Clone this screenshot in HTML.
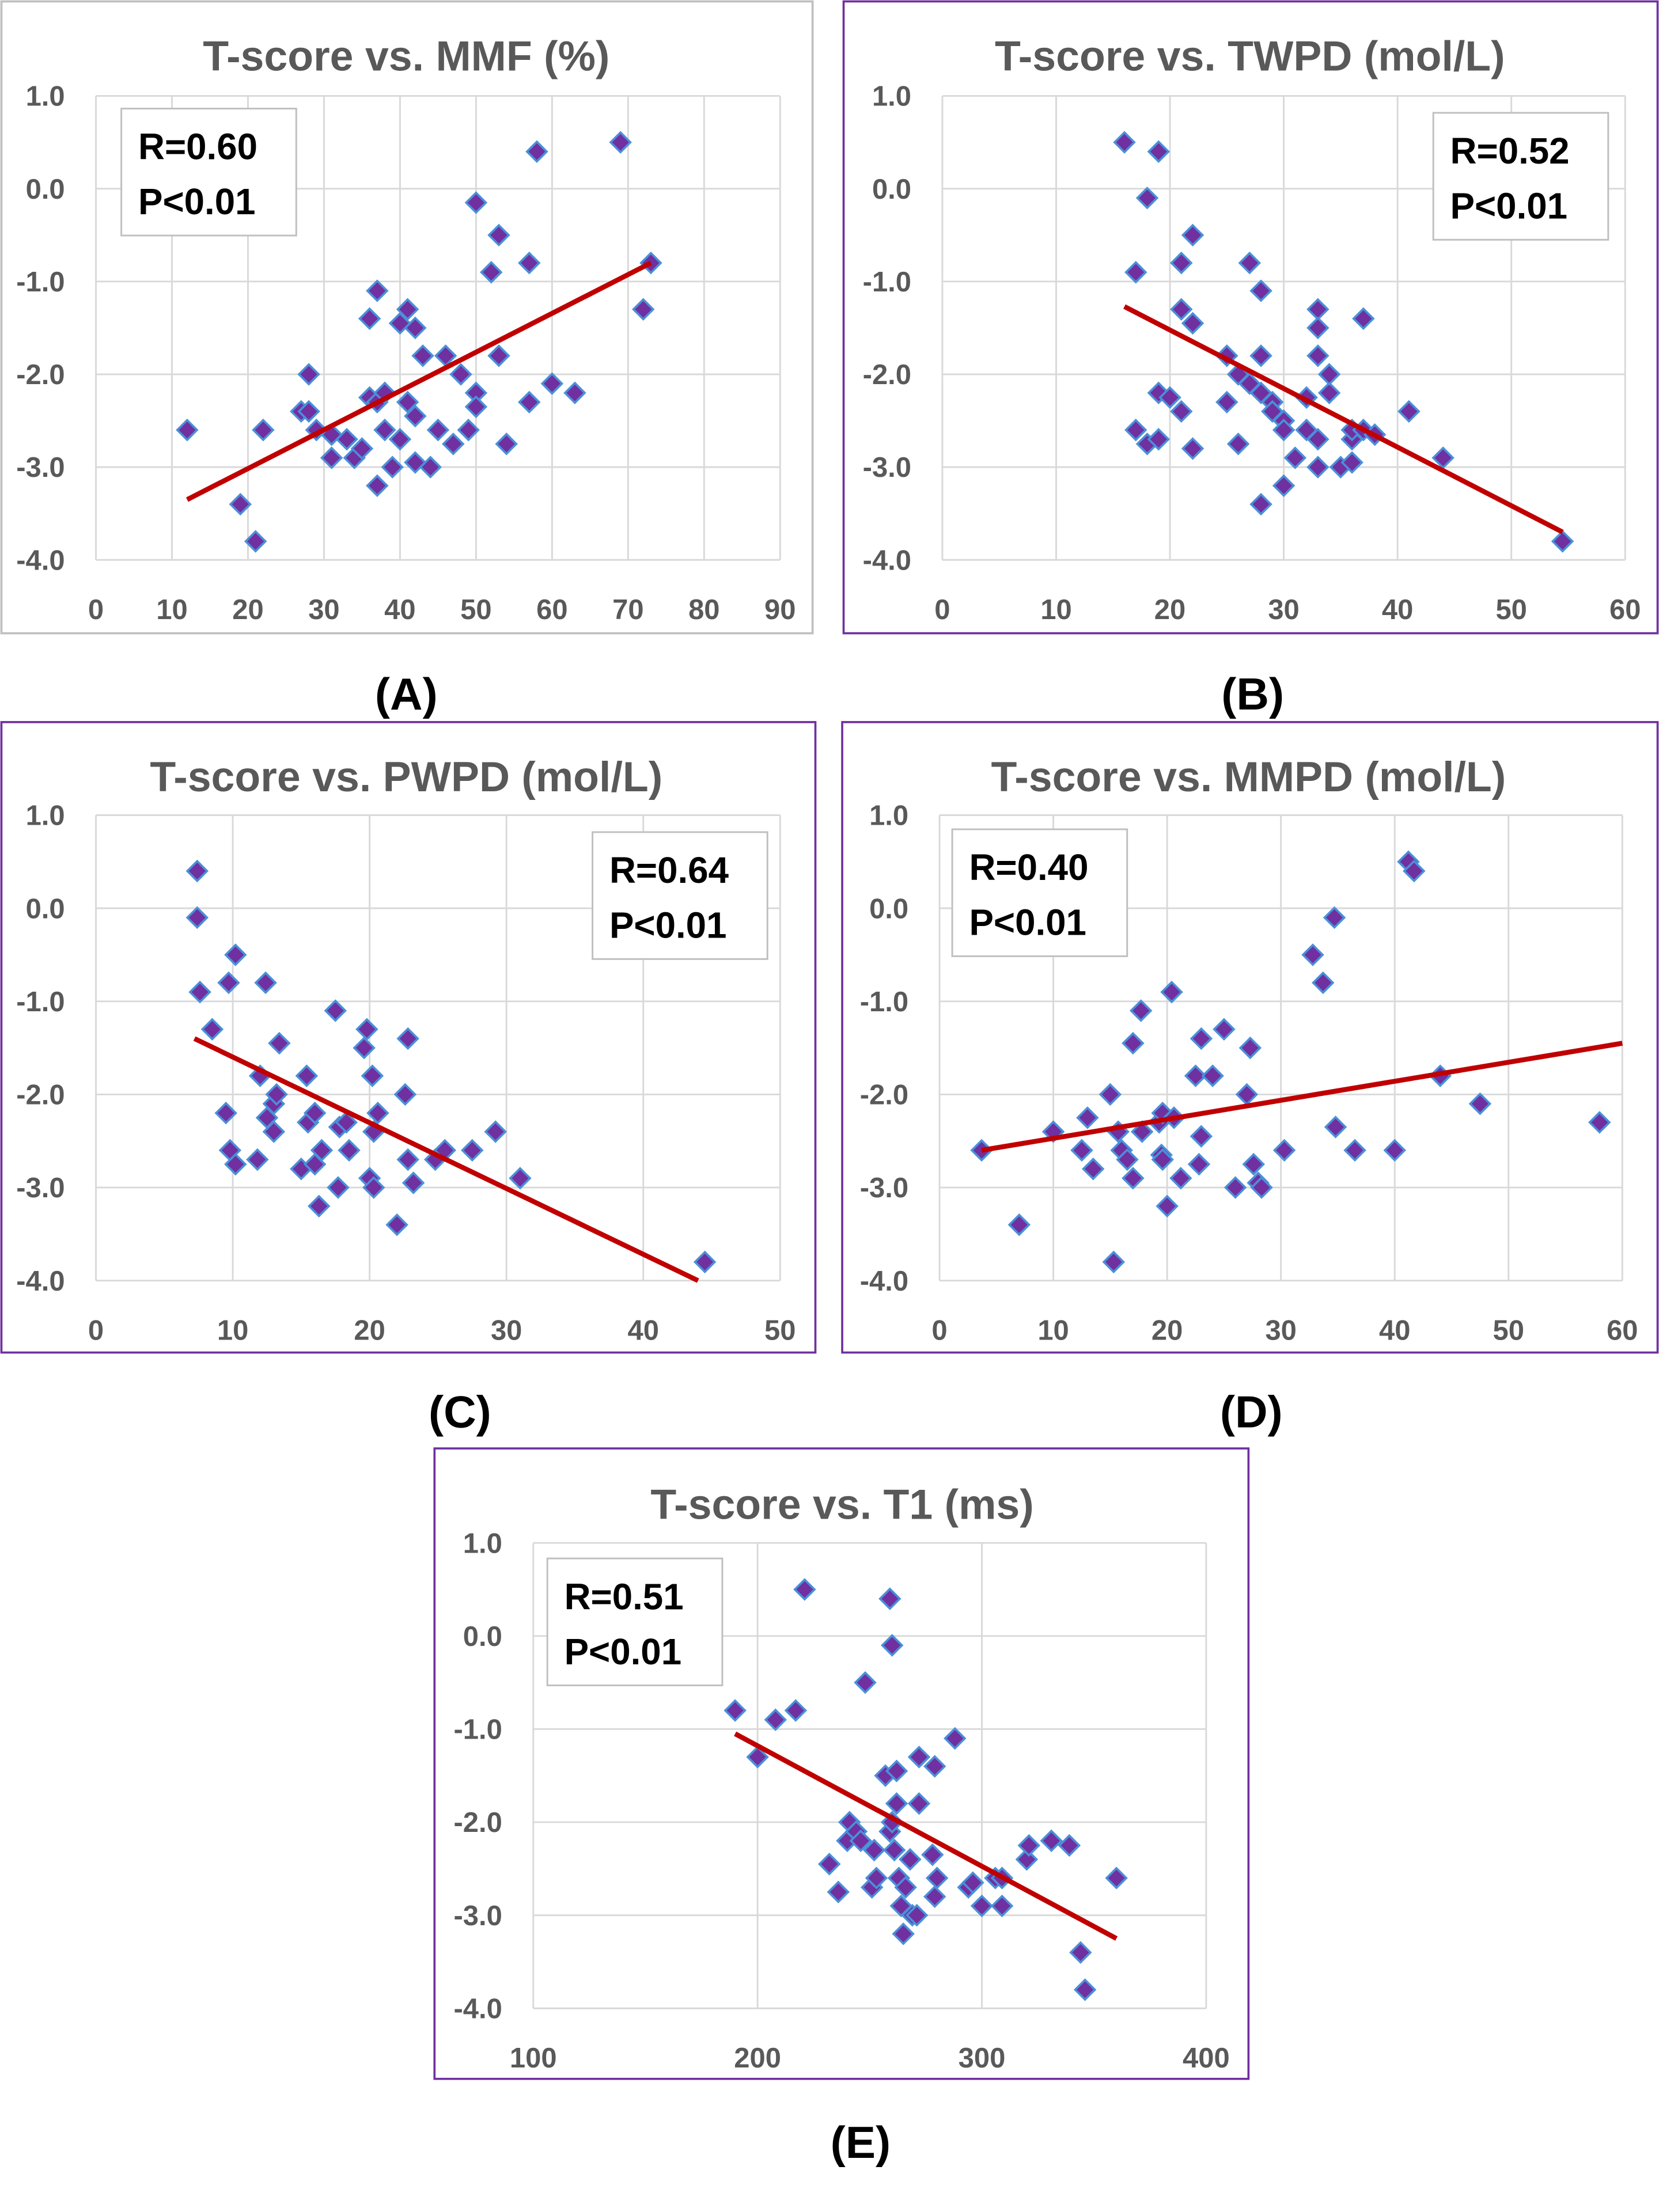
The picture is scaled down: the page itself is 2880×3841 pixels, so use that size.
<!DOCTYPE html>
<html><head><meta charset="utf-8"><style>
html,body{margin:0;padding:0;background:#fff}
svg{display:block}
text{font-family:"Liberation Sans",sans-serif}
</style></head><body>
<svg id="fig" width="2880" height="3841" viewBox="0 0 1176 1568.4" xmlns="http://www.w3.org/2000/svg"></svg>
<script>
const NS="http://www.w3.org/2000/svg";
const svg=document.getElementById('fig');
// ---- data ----
const aX=[12,19,21,22,27,28,28,29,31,31,33,34,35,36,36,37,37,37,38,38,39,40,40,41,41,42,42,42,43,44,45,46,47,48,49,50,50,50,52,53,53,54,57,57,58,60,63,69,72,73];
const aY=[-2.6,-3.4,-3.8,-2.6,-2.4,-2.0,-2.4,-2.6,-2.9,-2.65,-2.7,-2.9,-2.8,-2.25,-1.4,-1.1,-2.3,-3.2,-2.2,-2.6,-3.0,-1.45,-2.7,-1.3,-2.3,-1.5,-2.45,-2.95,-1.8,-3.0,-2.6,-1.8,-2.75,-2.0,-2.6,-0.15,-2.2,-2.35,-0.9,-0.5,-1.8,-2.75,-0.8,-2.3,0.4,-2.1,-2.2,0.5,-1.3,-0.8];
const aFit=[12,-3.35,73,-0.8];
const bX=[16,17,17,18,18,19,19,19,20,21,21,21,22,22,22,25,25,26,26,27,27,28,28,28,28,29,29,30,30,30,31,32,32,33,33,33,33,33,34,34,35,36,36,36,37,37,38,41,44,54.5];
const bY=[0.5,-0.9,-2.6,-0.1,-2.75,0.4,-2.2,-2.7,-2.25,-2.4,-0.8,-1.3,-2.8,-0.5,-1.45,-1.8,-2.3,-2.75,-2.0,-0.8,-2.1,-1.1,-2.2,-3.4,-1.8,-2.3,-2.4,-2.5,-3.2,-2.6,-2.9,-2.6,-2.25,-1.3,-1.5,-1.8,-3.0,-2.7,-2.2,-2.0,-3.0,-2.95,-2.7,-2.6,-1.4,-2.6,-2.65,-2.4,-2.9,-3.8];
const bFit=[16,-1.27,54.5,-3.7];
const cX=[7.4,7.4,7.6,8.5,9.5,9.7,9.8,10.2,10.2,11.8,12,12.4,12.5,13,13,13.2,13.4,15,15.4,15.5,16,16,16.3,16.5,17.5,17.7,17.8,18.3,18.5,19.6,19.8,20,20.2,20.3,20.3,20.6,22,22.6,22.8,22.8,23.2,24.8,25.5,27.5,29.2,31,44.5];
const cY=[0.4,-0.1,-0.9,-1.3,-2.2,-0.8,-2.6,-0.5,-2.75,-2.7,-1.8,-0.8,-2.25,-2.4,-2.1,-2.0,-1.45,-2.8,-1.8,-2.3,-2.2,-2.75,-3.2,-2.6,-1.1,-3.0,-2.35,-2.3,-2.6,-1.5,-1.3,-2.9,-1.8,-2.4,-3.0,-2.2,-3.4,-2.0,-1.4,-2.7,-2.95,-2.7,-2.6,-2.6,-2.4,-2.9,-3.8];
const cFit=[7.2,-1.4,44,-4.0];
const dX=[3.7,7,10,12.5,13,13.5,15,15.3,15.7,16,16.5,17,17,17.7,17.8,19.3,19.5,19.6,19.6,20,20.4,20.6,21.2,22.5,22.8,23,23,24,25,26,27,27.3,27.6,28,28.3,30.3,32.8,33.7,34.7,34.8,36.5,40,41.2,41.7,44,47.5,58];
const dY=[-2.6,-3.4,-2.4,-2.6,-2.25,-2.8,-2.0,-3.8,-2.4,-2.6,-2.7,-2.9,-1.45,-1.1,-2.4,-2.3,-2.65,-2.2,-2.7,-3.2,-0.9,-2.25,-2.9,-1.8,-2.75,-1.4,-2.45,-1.8,-1.3,-3.0,-2.0,-1.5,-2.75,-2.95,-3.0,-2.6,-0.5,-0.8,-0.1,-2.35,-2.6,-2.6,0.5,0.4,-1.8,-2.1,-2.3];
const dFit=[3.7,-2.6,60,-1.45];
const eX=[190,200,208,217,221,232,236,240,241,244,246,248,251,252,253,257,259,259,260,260,261,262,262,263,264,265,266,268,269,271,272,272,278,279,279,280,288,294,296,300,306,309,309,320,321,331,339,344,346,360];
const eY=[-0.8,-1.3,-0.9,-0.8,0.5,-2.45,-2.75,-2.2,-2.0,-2.1,-2.2,-0.5,-2.7,-2.3,-2.6,-1.5,0.4,-2.1,-2.0,-0.1,-2.3,-1.8,-1.45,-2.6,-2.9,-3.2,-2.7,-2.4,-3.0,-3.0,-1.3,-1.8,-2.35,-1.4,-2.8,-2.6,-1.1,-2.7,-2.65,-2.9,-2.6,-2.6,-2.9,-2.4,-2.25,-2.2,-2.25,-3.4,-3.8,-2.6];
const eFit=[190,-1.05,360,-3.25];
const yTicks=[1.0,0.0,-1.0,-2.0,-3.0,-4.0];

function el(tag,attrs,parent){const e=document.createElementNS(NS,tag);for(const k in attrs)e.setAttribute(k,attrs[k]);(parent||svg).appendChild(e);return e;}

function panel(cfg){
  const g=el('g',{});
  
  
  const box=el('rect',{x:cfg.box[0],y:cfg.box[1],width:cfg.box[2],height:cfg.box[3],fill:'#fff',stroke:cfg.border,'stroke-width':1.5},g);
  
  
  const [L,R,T,B]=cfg.plot;
  const sx=v=>L+(v-cfg.xmin)/(cfg.xmax-cfg.xmin)*(R-L);
  const sy=v=>T+(1-v)/5*(B-T);
  for(const t of yTicks){
    const ln=el('line',{x1:L,x2:R,y1:sy(t),y2:sy(t),stroke:'#d9d9d9','stroke-width':1.2},g);
    
    
    const tx=el('text',{x:L-22,y:sy(t)+7,'text-anchor':'end','font-size':20,'font-weight':'bold',fill:'#595959'},g);
    tx.textContent=t.toFixed(1);
    
    
  }
  for(const t of cfg.xticks){
    const ln=el('line',{x1:sx(t),x2:sx(t),y1:T,y2:B,stroke:'#d9d9d9','stroke-width':1.2},g);
    
    
    const tx=el('text',{x:sx(t),y:B+42,'text-anchor':'middle','font-size':20,'font-weight':'bold',fill:'#595959'},g);
    tx.textContent=String(t);
    
    
  }
  const ti=el('text',{x:cfg.title[1],y:cfg.title[2],'text-anchor':'middle','font-size':30,'font-weight':'bold',fill:'#595959','xml:space':'preserve'},g);
  ti.textContent=cfg.title[0];
  
  
  cfg.xs.forEach((x,i)=>{
    const cx=sx(x),cy=sy(cfg.ys[i]),r=7;
    const p=el('polygon',{points:`${cx},${cy-r} ${cx+r},${cy} ${cx},${cy+r} ${cx-r},${cy}`,fill:'#7030a0',stroke:'#4a90d9','stroke-width':1.5},g);
    
    
  });
  const f=cfg.fit;
  const ln=el('line',{x1:sx(f[0]),y1:sy(f[1]),x2:sx(f[2]),y2:sy(f[3]),stroke:'#c00000','stroke-width':3.5},g);
  
  
  const sb=cfg.stat;
  const r=el('rect',{x:sb[0],y:sb[1],width:124,height:90,fill:'#fff',stroke:'#bfbfbf','stroke-width':1.2},g);
  
  
  const t1=el('text',{x:sb[0]+12,y:sb[1]+36,'font-size':26,'font-weight':'bold',fill:'#000'},g);
  t1.textContent=cfg.r;
  
  
  const t2=el('text',{x:sb[0]+12,y:sb[1]+75,'font-size':26,'font-weight':'bold',fill:'#000'},g);
  t2.textContent='P<0.01';
  
  
  const lb=el('text',{x:cfg.label[1],y:cfg.label[2],'text-anchor':'middle','font-size':32,'font-weight':'bold',fill:'#000'},g);
  lb.textContent=cfg.label[0];
  
  
}
const purple='#7030a0';
panel({name:'panel-a-mmf',box:[1,1,575,448],border:'#bfbfbf',plot:[68,553,68,397],xmin:0,xmax:90,xticks:[0,10,20,30,40,50,60,70,80,90],xs:aX,ys:aY,fit:aFit,title:['T-score vs.  MMF (%)',288,50],stat:[86,77],r:'R=0.60',label:['(A)',288,503]});
panel({name:'panel-b-twpd',box:[598,1,577,448],border:purple,plot:[668,1152,68,397],xmin:0,xmax:60,xticks:[0,10,20,30,40,50,60],xs:bX,ys:bY,fit:bFit,title:['T-score vs.  TWPD (mol/L)',886,50],stat:[1016,80],r:'R=0.52',label:['(B)',888,503]});
panel({name:'panel-c-pwpd',box:[1,512,577,447],border:purple,plot:[68,553,578,908],xmin:0,xmax:50,xticks:[0,10,20,30,40,50],xs:cX,ys:cY,fit:cFit,title:['T-score vs.  PWPD (mol/L)',288,561],stat:[420,590],r:'R=0.64',label:['(C)',326,1012]});
panel({name:'panel-d-mmpd',box:[597,512,578,447],border:purple,plot:[666,1150,578,908],xmin:0,xmax:60,xticks:[0,10,20,30,40,50,60],xs:dX,ys:dY,fit:dFit,title:['T-score vs. MMPD (mol/L)',885,561],stat:[675,588],r:'R=0.40',label:['(D)',887,1012]});
panel({name:'panel-e-t1',box:[308,1027,577,447],border:purple,plot:[378,855,1094,1424],xmin:100,xmax:400,xticks:[100,200,300,400],xs:eX,ys:eY,fit:eFit,title:['T-score vs.  T1 (ms)',597,1077],stat:[388,1105],r:'R=0.51',label:['(E)',610,1530]});
</script>
</body></html>
